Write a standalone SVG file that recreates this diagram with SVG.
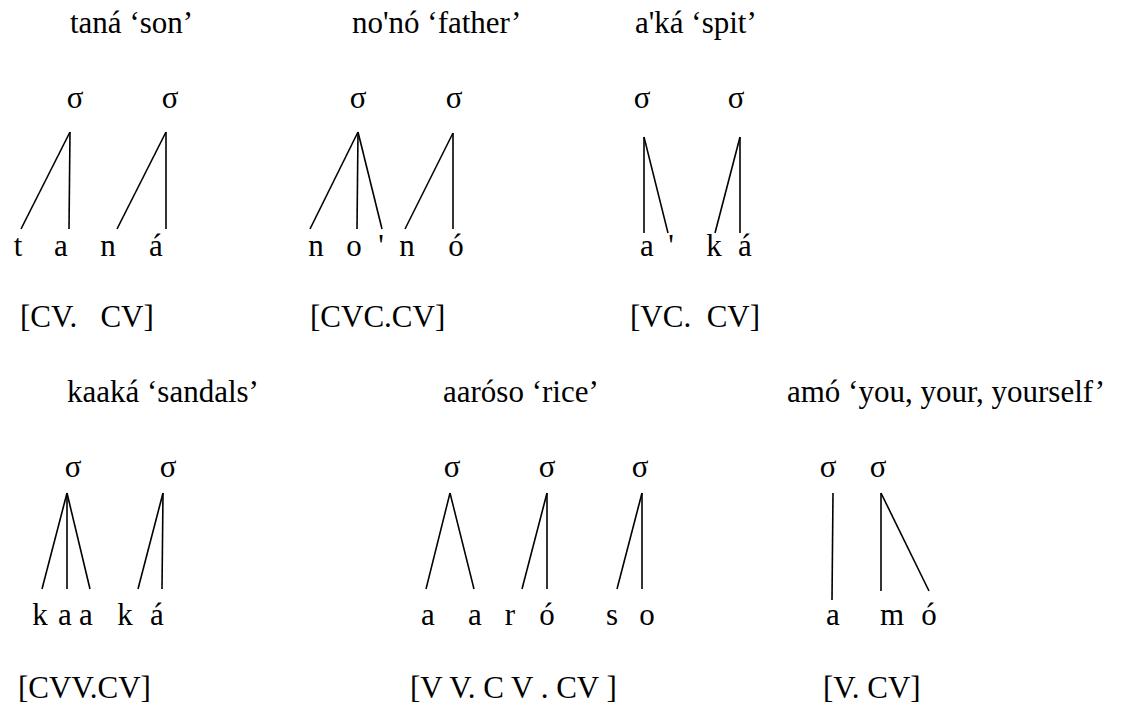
<svg xmlns="http://www.w3.org/2000/svg" width="1126" height="708" viewBox="0 0 1126 708">
<style>
text{font-family:"Liberation Serif","Times New Roman",serif;font-size:31px;fill:#000}
.s{text-anchor:middle}
.c line{stroke:#000;stroke-width:1.6;stroke-linecap:butt}
</style>
<rect width="1126" height="708" fill="#fff"/>
<g id="tana">
<text x="70" y="33">taná ‘son’</text>
<text class="s" x="75" y="108">σ</text><text class="s" x="170" y="108">σ</text>
<text class="s" x="18" y="256">t</text><text class="s" x="61" y="256">a</text><text class="s" x="108" y="256">n</text><text class="s" x="156" y="256">á</text>
<text x="20" y="327" xml:space="preserve">[CV.   CV]</text>
</g>
<g id="nono">
<text x="352" y="33">no'nó ‘father’</text>
<text class="s" x="358" y="108">σ</text><text class="s" x="454" y="108">σ</text>
<text class="s" x="316" y="256">n</text><text class="s" x="354" y="256">o</text><text class="s" x="381" y="256">'</text><text class="s" x="407" y="256">n</text><text class="s" x="456" y="256">ó</text>
<text x="310" y="327">[CVC.CV]</text>
</g>
<g id="aka">
<text x="635" y="33">a'ká ‘spit’</text>
<text class="s" x="642" y="108">σ</text><text class="s" x="736" y="108">σ</text>
<text class="s" x="647" y="256">a</text><text class="s" x="671" y="256">'</text><text class="s" x="714" y="256">k</text><text class="s" x="745" y="256">á</text>
<text x="630" y="327" xml:space="preserve">[VC.  CV]</text>
</g>
<g id="kaaka">
<text x="67" y="402">kaaká ‘sandals’</text>
<text class="s" x="73" y="477">σ</text><text class="s" x="168" y="477">σ</text>
<text class="s" x="40" y="625">k</text><text class="s" x="65" y="625">a</text><text class="s" x="86" y="625">a</text><text class="s" x="125" y="625">k</text><text class="s" x="157" y="625">á</text>
<text x="18" y="698">[CVV.CV]</text>
</g>
<g id="aaroso">
<text x="443" y="402">aaróso ‘rice’</text>
<text class="s" x="452" y="477">σ</text><text class="s" x="547" y="477">σ</text><text class="s" x="640" y="477">σ</text>
<text class="s" x="428" y="625">a</text><text class="s" x="475" y="625">a</text><text class="s" x="510" y="625">r</text><text class="s" x="547" y="625">ó</text><text class="s" x="612" y="625">s</text><text class="s" x="647" y="625">o</text>
<text x="410" y="698">[V V. C V . CV ]</text>
</g>
<g id="amo">
<text x="787" y="402">amó ‘you, your, yourself’</text>
<text class="s" x="828" y="477">σ</text><text class="s" x="878" y="477">σ</text>
<text class="s" x="833" y="625">a</text><text class="s" x="892" y="625">m</text><text class="s" x="929" y="625">ó</text>
<text x="823" y="698">[V. CV]</text>
</g>
<g id="connectors" class="c">
<line x1="70" y1="132" x2="21" y2="229"/><line x1="70" y1="132" x2="69" y2="229"/>
<line x1="166" y1="132" x2="117" y2="229"/><line x1="166" y1="132" x2="166" y2="229"/>
<line x1="358" y1="132" x2="310" y2="229"/><line x1="358" y1="132" x2="357" y2="229"/><line x1="358" y1="132" x2="382" y2="229"/>
<line x1="453" y1="133" x2="405" y2="229"/><line x1="453" y1="133" x2="453" y2="229"/>
<line x1="644" y1="137" x2="644" y2="233"/><line x1="644" y1="137" x2="668" y2="233"/>
<line x1="740" y1="137" x2="715" y2="233"/><line x1="740" y1="137" x2="740" y2="233"/>
<line x1="67" y1="493" x2="42" y2="589"/><line x1="67" y1="493" x2="67" y2="589"/><line x1="67" y1="493" x2="90" y2="589"/>
<line x1="163" y1="493" x2="138" y2="589"/><line x1="163" y1="493" x2="162" y2="589"/>
<line x1="450" y1="493" x2="426" y2="589"/><line x1="450" y1="493" x2="474" y2="589"/>
<line x1="547" y1="493" x2="522" y2="589"/><line x1="547" y1="493" x2="547" y2="589"/>
<line x1="642" y1="493" x2="617" y2="589"/><line x1="642" y1="493" x2="642" y2="589"/>
<line x1="833" y1="493" x2="832" y2="600"/>
<line x1="881" y1="493" x2="881" y2="591"/><line x1="881" y1="493" x2="929" y2="591"/>
</g>
</svg>
